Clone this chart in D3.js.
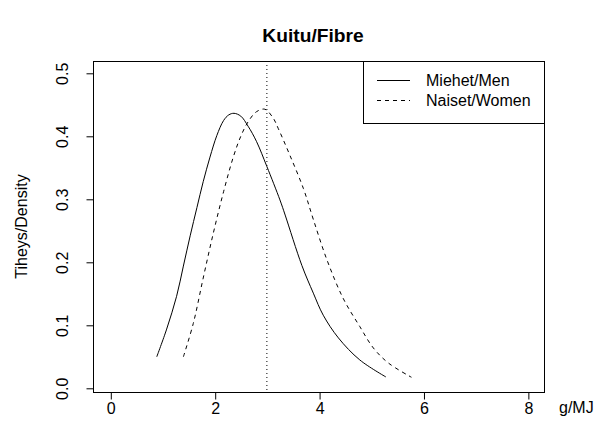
<!DOCTYPE html>
<html><head><meta charset="utf-8">
<script src="https://cdn.jsdelivr.net/npm/d3@7"></script>
<style>body{margin:0;background:#fff}svg{display:block;font-family:"Liberation Sans",Arial,Helvetica,sans-serif}</style>
</head><body><svg id="c" width="595" height="442"></svg>
<script>
const title = "Kuitu/Fibre";
const xLabel = "g/MJ";
const yLabel = "Tiheys/Density";
const xTicks = [0, 2, 4, 6, 8];
const yTicks = [0.0, 0.1, 0.2, 0.3, 0.4, 0.5];
const refLineX = 3;
const seriesNames = ["Miehet/Men", "Naiset/Women"];
const menX = [0.89, 1.08, 1.27, 1.40, 1.53, 1.66, 1.78, 1.91, 2.04, 2.17, 2.27, 2.37, 2.50, 2.64, 2.80, 3.00, 3.25, 3.35, 3.67, 3.89, 4.08, 4.37, 4.78, 5.28];
const menY = [0.050, 0.094, 0.146, 0.194, 0.242, 0.287, 0.328, 0.367, 0.401, 0.425, 0.434, 0.4365, 0.432, 0.416, 0.392, 0.352, 0.299, 0.275, 0.195, 0.151, 0.116, 0.080, 0.045, 0.018];
const womenX = [1.40, 1.59, 1.78, 1.97, 2.17, 2.36, 2.50, 2.64, 2.80, 2.96, 3.12, 3.22, 3.44, 3.70, 3.89, 4.15, 4.46, 4.78, 5.04, 5.33, 5.77];
const womenY = [0.050, 0.103, 0.175, 0.245, 0.312, 0.368, 0.400, 0.423, 0.439, 0.443, 0.429, 0.412, 0.370, 0.317, 0.268, 0.204, 0.143, 0.098, 0.064, 0.040, 0.0175];

const FS = 16;
const svg = d3.select("#c");
const L = 93, R = 544, T = 61, B = 392;
const x = d3.scaleLinear().domain([-0.3314, 8.309]).range([L, R]);
const y = d3.scaleLinear().domain([0, 0.5]).range([388.3, 73.3]);

svg.append("rect").attr("x", L + 0.5).attr("y", T + 0.5).attr("width", R - L).attr("height", B - T)
  .attr("fill", "none").attr("stroke", "#000").attr("stroke-width", 1);

const xa = svg.append("g").attr("transform", `translate(0.5,${B + 0.5})`)
  .call(d3.axisBottom(x).tickValues(xTicks).tickSize(7).tickPadding(0).tickFormat(d3.format("d")));
xa.select(".domain").remove();
xa.selectAll("text").attr("font-size", FS).attr("font-family", "Liberation Sans, Arial, sans-serif").attr("fill", "#000")
  .attr("dy", null).attr("y", 21);

const ya = svg.append("g").attr("transform", `translate(${L + 0.5},0.5)`)
  .call(d3.axisLeft(y).tickValues(yTicks).tickSize(7).tickFormat(d3.format(".1f")));
ya.select(".domain").remove();
ya.selectAll(".tick").attr("transform", "translate(0,0)");
ya.selectAll(".tick line").attr("y1", d => y(d)).attr("y2", d => y(d));
ya.selectAll("text").attr("font-size", FS).attr("font-family", "Liberation Sans, Arial, sans-serif").attr("fill", "#000")
  .attr("text-anchor", "middle").attr("x", 0).attr("y", 0).attr("dy", null)
  .attr("transform", d => `translate(-26,${y(d)}) rotate(-90)`);

svg.append("text").attr("x", 313).attr("y", 42).attr("text-anchor", "middle")
  .attr("font-size", FS * 1.2).attr("font-weight", "bold").text(title);
svg.append("text").attr("transform", `translate(27,${(T + B) / 2}) rotate(-90)`).attr("text-anchor", "middle")
  .attr("font-size", FS).text(yLabel);
svg.append("text").attr("x", 559).attr("y", 413).attr("font-size", FS).text(xLabel);

const line = d3.line().x(d => x(d[0])).y(d => y(d[1])).curve(d3.curveCatmullRom.alpha(0.5));
svg.append("line").attr("x1", x(refLineX)).attr("x2", x(refLineX)).attr("y1", T).attr("y2", B)
  .attr("stroke", "#000").attr("stroke-dasharray", "1,3").attr("stroke-width", 1);
svg.append("path").datum(d3.zip(menX, menY)).attr("d", line).attr("fill", "none").attr("stroke", "#000").attr("stroke-width", 1);
svg.append("path").datum(d3.zip(womenX, womenY)).attr("d", line).attr("fill", "none").attr("stroke", "#000").attr("stroke-width", 1).attr("stroke-dasharray", "4,4");

const lg = svg.append("g");
lg.append("rect").attr("x", 363.5).attr("y", T + 0.5).attr("width", R - 363).attr("height", 62).attr("fill", "#fff").attr("stroke", "#000");
const dashes = [null, "4,4"];
seriesNames.forEach((n, i) => {
  const yy = 80 + i * 20;
  lg.append("line").attr("x1", 377).attr("x2", 410).attr("y1", yy + 0.5).attr("y2", yy + 0.5).attr("stroke", "#000").attr("stroke-dasharray", dashes[i]);
  lg.append("text").attr("x", 426).attr("y", yy + 6).attr("font-size", FS).text(n);
});
</script></body></html>
